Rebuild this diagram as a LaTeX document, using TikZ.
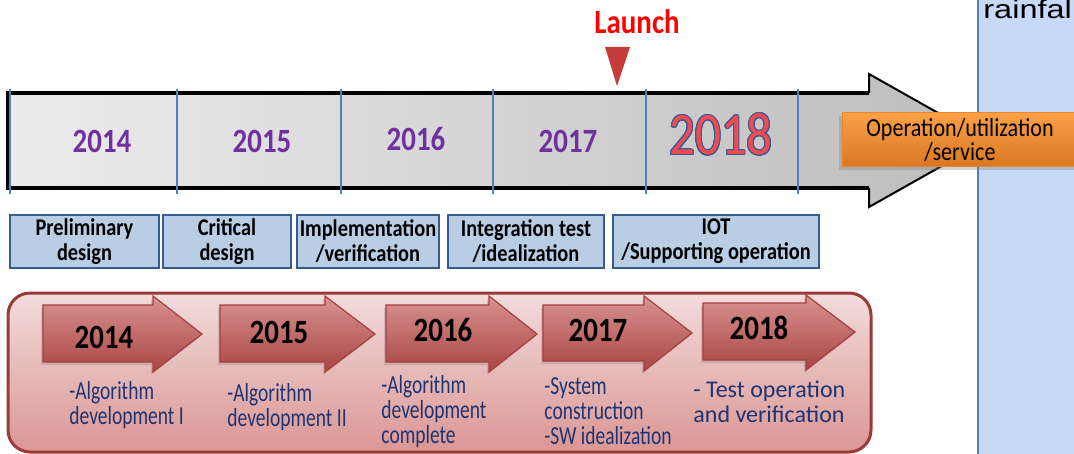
\documentclass[tikz,border=0pt]{standalone}
\usepackage{fontspec}
\setmainfont{Carlito}[FakeStretch=0.85]
\newfontfamily\plainfont{Carlito}
\newfontfamily\notefont{Carlito}[FakeStretch=0.75]
\newfontfamily\arialfont{Liberation Sans}[FakeStretch=1.25]
\usepackage[copies]{contour}
\usetikzlibrary{shadows}
\definecolor{barleft}{HTML}{ECECEC}
\definecolor{barright}{HTML}{BCBCBC}
\definecolor{barblue}{HTML}{4F81BD}
\definecolor{yearpurple}{HTML}{7030A0}
\definecolor{fill2018}{HTML}{EE4B55}
\definecolor{outline2018}{HTML}{3B5A8C}
\definecolor{markred}{HTML}{C43C3C}
\definecolor{phasefill}{HTML}{B9CDE5}
\definecolor{phaseline}{HTML}{385D8A}
\definecolor{panelline}{HTML}{9B3B39}
\definecolor{paneltop}{HTML}{F2DCDB}
\definecolor{panelbot}{HTML}{DA9694}
\definecolor{arrowtop}{HTML}{D99391}
\definecolor{arrowbot}{HTML}{A94543}
\definecolor{arrowline}{HTML}{A5403E}
\definecolor{notenavy}{HTML}{1F3472}
\definecolor{opstop}{HTML}{F9A045}
\definecolor{opsbot}{HTML}{DA7722}
\definecolor{opsline}{HTML}{E8862E}
\definecolor{sidefill}{HTML}{C6D9F7}
\contourlength{0.5pt}

\begin{document}
\begin{tikzpicture}[x=0.5pt, y=-0.5pt,
	barsplit/.style={draw=barblue, line width=0.8pt},
	baryear/.style={text=yearpurple, font=\fontsize{17}{17}\selectfont\bfseries},
	phase/.style={shape=rectangle, draw=phaseline, line width=1.2pt, fill=phasefill, inner sep=0pt, align=center, minimum height=26.5pt, font=\fontsize{12}{12.5}\selectfont\bfseries},
	yeararrow/.style={draw=arrowline, line width=0.6pt, top color=arrowtop, bottom color=arrowbot, drop shadow={shadow xshift=-1pt, shadow yshift=-1.5pt, opacity=0.3}},
	arrowyear/.style={font=\fontsize{17}{17}\selectfont\bfseries},
	note/.style={anchor=base west, align=left, inner sep=0pt, text=notenavy, font=\notefont\fontsize{13}{12.5}\selectfont}]
	\useasboundingbox (0,0) rectangle (1074,454);

	% Time bar with the arrow head:
	\path[left color=barleft, right color=barright] (8,93) -- (869,93) -- (869,74) -- (987,140.5) -- (869,207) -- (869,188) -- (8,188) -- cycle;
	\draw[line width=1.75pt] (869,93) -- (8,93) -- (8,188) -- (869,188);
	\draw[line width=1pt, line join=miter] (869,93) -- (869,74) -- (987,140.5) -- (869,207) -- (869,188);
	\draw[barsplit] (10,89) -- (10,194);
	\draw[barsplit] (177,89) -- (177,194);
	\draw[barsplit] (341,89) -- (341,194);
	\draw[barsplit] (493,89) -- (493,194);
	\draw[barsplit] (646,89) -- (646,194);
	\draw[barsplit] (798,89) -- (798,194);
	\node[baryear] (b14) at (102,141) {2014};
	\node[baryear] (b15) at (262,141) {2015};
	\node[baryear] (b16) at (416,139) {2016};
	\node[baryear] (b17) at (568,141) {2017};
	\node[text=fill2018, font=\fontsize{30}{30}\selectfont] (b18) at (721,135) {\contour{outline2018}{2018}};

	% Launch marker:
	\node[text=red, font=\fontsize{17}{17}\selectfont\bfseries] (launch) at (637,22) {Launch};
	\fill[markred] (605,47) -- (630,47) -- (617,86) -- cycle;

	% Side panel and the operation box:
	\fill[sidefill] (978,0) rectangle (1074,454);
	\draw[barblue, line width=1pt] (978,0) -- (978,454);
	\node[anchor=base west, inner sep=0pt, font=\arialfont\fontsize{13}{13}\selectfont] (rain) at (983,19) {rainfal};
	\node[shape=rectangle, draw=opsline, line width=0.5pt, top color=opstop, bottom color=opsbot, drop shadow={shadow xshift=-1.5pt, shadow yshift=-1.5pt, opacity=0.35}, minimum width=118pt, minimum height=27pt, inner sep=0pt, align=center, font=\fontsize{13}{12}\selectfont] (ops) at (960,140) {Operation/utilization\\/service};

	% Phases:
	\node[phase, minimum width=74.5pt] (prelim) at (84.5,241.5) {Preliminary\\design};
	\node[phase, minimum width=64pt] (critical) at (227,241.5) {Critical\\design};
	\node[phase, minimum width=71pt] (impl) at (368,241.5) {Implementation\\/verification};
	\node[phase, minimum width=78pt] (integ) at (526,241.5) {Integration test\\/idealization};
	\node[phase, minimum width=103pt] (iot) at (716,241.5) {IOT\\/Supporting operation};

	% Algorithm panel (notes sit on the baseline of their last line):
	\draw[draw=panelline, line width=1.5pt, rounded corners=11pt, top color=paneltop, bottom color=panelbot] (8,293) rectangle (871,452);
	\draw[yeararrow] (43,305) -- (153,305) -- (153,296) -- (202,334) -- (153,372) -- (153,362) -- (43,362) -- cycle;
	\draw[yeararrow] (220,305) -- (325,305) -- (325,296) -- (375,334) -- (325,372) -- (325,362) -- (220,362) -- cycle;
	\draw[yeararrow] (386,305) -- (489,305) -- (489,296) -- (537,334) -- (489,372) -- (489,362) -- (386,362) -- cycle;
	\draw[yeararrow] (543,305) -- (644,305) -- (644,296) -- (692,333) -- (644,371) -- (644,361) -- (543,361) -- cycle;
	\draw[yeararrow] (703,303) -- (806,303) -- (806,295) -- (855,332) -- (806,370) -- (806,360) -- (703,360) -- cycle;
	\node[arrowyear] (a14) at (104,337) {2014};
	\node[arrowyear] (a15) at (279,332) {2015};
	\node[arrowyear] (a16) at (443,330) {2016};
	\node[arrowyear] (a17) at (598,330) {2017};
	\node[arrowyear] (a18) at (759,328) {2018};
	\node[note] (n14) at (69,424) {-Algorithm\\development I};
	\node[note] (n15) at (227,426) {-Algorithm\\development II};
	\node[note] (n16) at (381,443) {-Algorithm\\development\\complete};
	\node[note] (n17) at (544,444) {-System\\construction\\-SW idealization};
	\node[note, font=\plainfont\fontsize{12}{12.5}\selectfont] (n18) at (693,422) {- Test operation\\and verification};
\end{tikzpicture}
\end{document}
